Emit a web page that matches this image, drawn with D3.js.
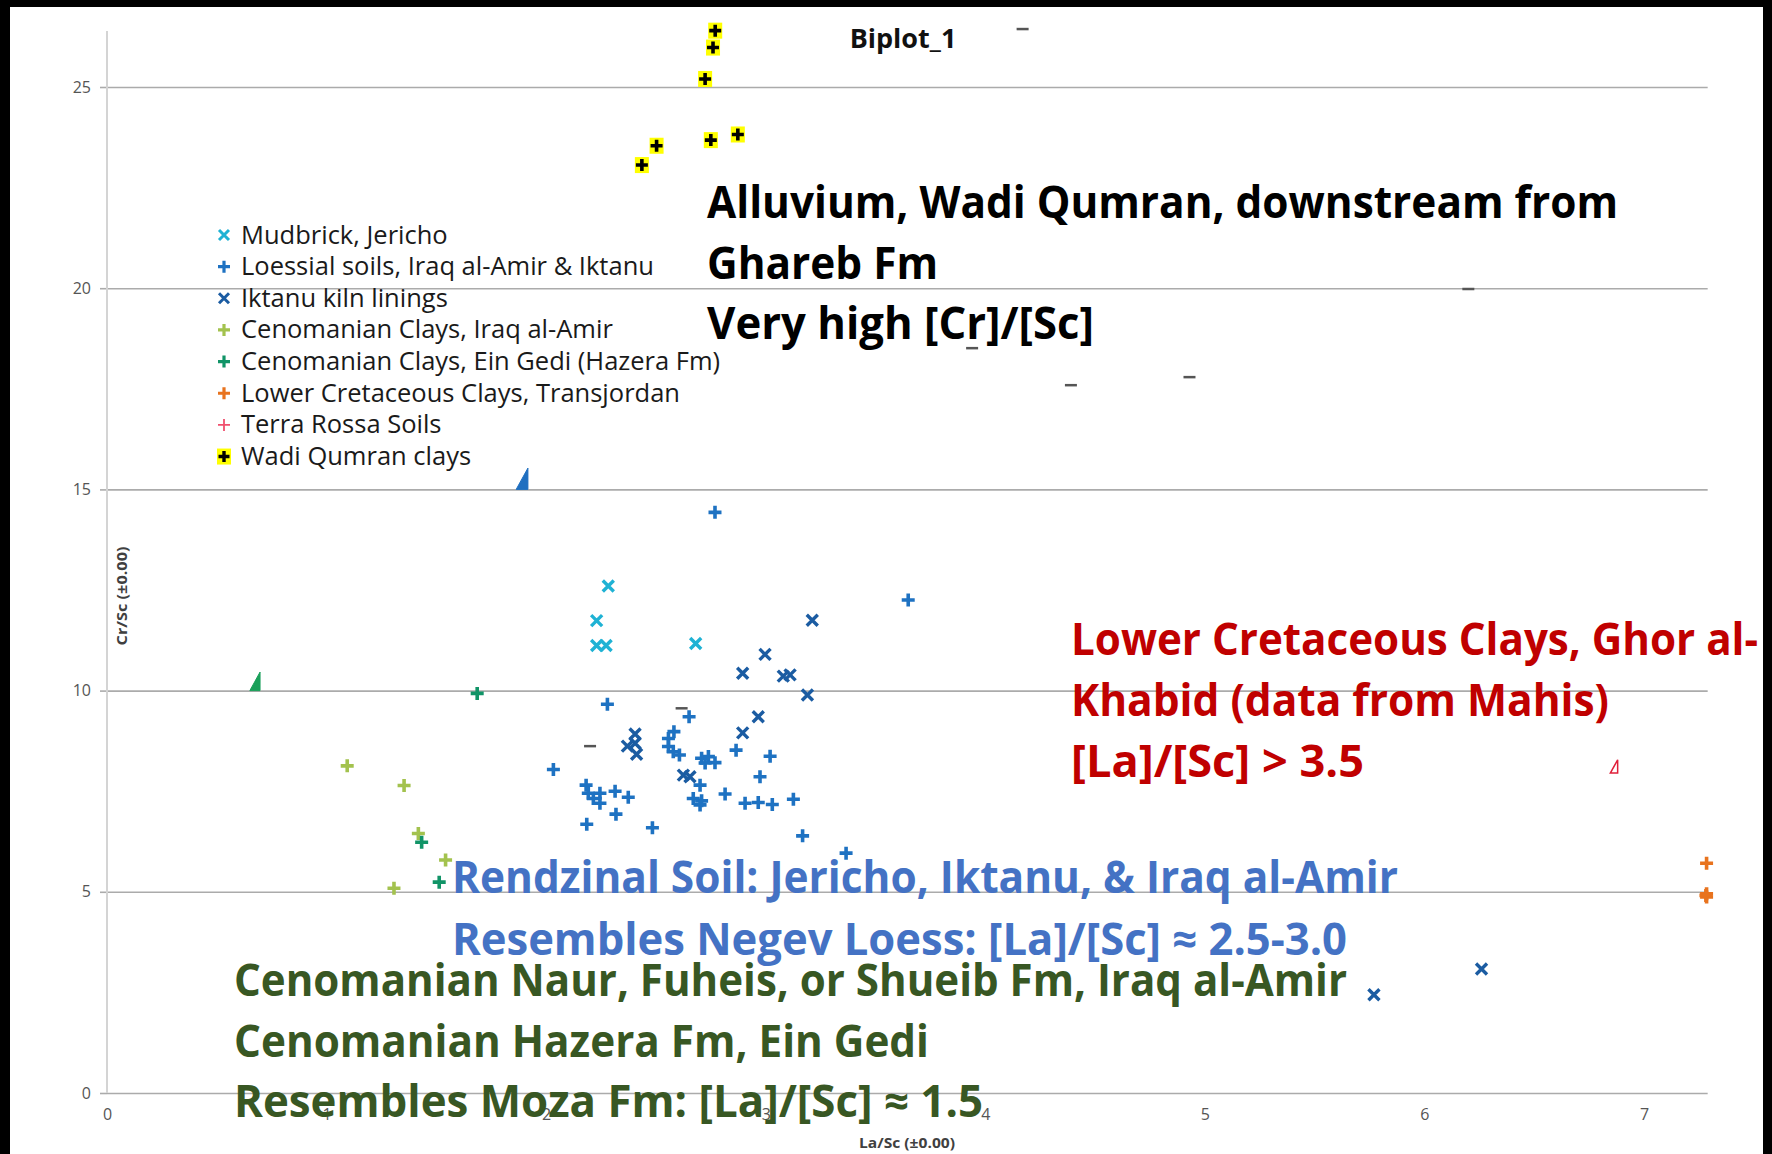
<!DOCTYPE html>
<html>
<head>
<meta charset="utf-8">
<script src="https://cdn.jsdelivr.net/npm/d3@7/dist/d3.min.js"></script>
<style>
  html, body { margin: 0; padding: 0; background: #fff; }
  svg { display: block; }
</style>
</head>
<body>
<svg id="chart" width="1772" height="1154"></svg>
<script>
// ---- axis ticks ----
const xTicks = [0, 1, 2, 3, 4, 5, 6, 7];
const yTicks = [0, 5, 10, 15, 20, 25];

// ---- series: [La/Sc, Cr/Sc] ----
const mudbrickJericho = [
  [2.283, 12.60], [2.230, 11.74], [2.230, 11.12], [2.273, 11.12], [2.681, 11.17]
];
const loessialSoils = [
  [2.769, 14.43], [3.649, 12.25], [2.279, 9.66], [2.651, 9.35],
  [2.582, 8.98], [2.557, 8.81], [2.557, 8.61], [2.579, 8.48], [2.607, 8.40],
  [2.033, 8.04], [2.865, 8.52], [3.020, 8.37],
  [2.708, 8.32], [2.739, 8.36], [2.769, 8.21], [2.724, 8.20],
  [2.974, 7.86], [2.701, 7.65],
  [2.182, 7.65], [2.192, 7.45], [2.215, 7.32], [2.245, 7.45], [2.245, 7.20],
  [2.314, 7.50], [2.374, 7.35],
  [2.670, 7.32], [2.708, 7.26], [2.701, 7.16],
  [2.815, 7.43], [2.906, 7.20], [2.966, 7.22], [3.030, 7.17], [3.126, 7.30],
  [2.318, 6.93], [2.185, 6.68], [2.484, 6.59], [3.168, 6.39], [3.366, 5.96]
];
const iktanuKilnLinings = [
  [3.212, 11.75], [2.997, 10.90], [2.895, 10.43], [3.080, 10.36], [3.111, 10.39],
  [3.190, 9.89], [2.966, 9.35], [2.895, 8.95],
  [2.405, 8.92], [2.370, 8.62], [2.412, 8.42], [2.405, 8.69],
  [2.625, 7.90], [2.655, 7.86],
  [6.260, 3.08], [5.770, 2.44]
];
const cenomanianIraqAlAmir = [
  [1.094, 8.13], [1.353, 7.64], [1.418, 6.45], [1.542, 5.79], [1.307, 5.09]
];
const cenomanianEinGedi = [
  [1.686, 9.93], [1.433, 6.23], [1.513, 5.24]
];
const lowerCretaceousTransjordan = [
  [7.285, 5.71], [7.285, 4.95], [7.285, 4.87], [7.282, 4.91]
];
const terraRossaSoils = [];
const wadiQumranClays = [
  [2.770, 26.40], [2.760, 25.98], [2.724, 25.20],
  [2.436, 23.06], [2.503, 23.54], [2.750, 23.68], [2.873, 23.82]
];

// stray short dashes left on the plot
const strayDashes = [
  [4.17, 26.44], [6.20, 19.98], [4.93, 17.79], [4.39, 17.59], [3.94, 18.51],
  [2.200, 8.62], [2.617, 9.56]
];
// arrow heads: tip x, tip y, base y
const arrowTipX = [1.917, 0.697, 6.880];
const arrowTipY = [15.53, 10.46, 8.28];
const arrowBaseY = [15.0, 10.0, 7.95];

const legendLabels = [
  "Mudbrick, Jericho",
  "Loessial soils, Iraq al-Amir & Iktanu",
  "Iktanu kiln linings",
  "Cenomanian Clays, Iraq al-Amir",
  "Cenomanian Clays, Ein Gedi (Hazera Fm)",
  "Lower Cretaceous Clays, Transjordan",
  "Terra Rossa Soils",
  "Wadi Qumran clays"
];

const svg = d3.select("#chart");
const W = 1772, H = 1154;

const x = d3.scaleLinear().domain([0, 7]).range([107, 1644]);
const y = d3.scaleLinear().domain([0, 25]).range([1093, 87]);
const xMax = 7.29, yMax = 26.39;

svg.append("rect").attr("width", W).attr("height", H).attr("fill", "#fff");

// gridlines + y axis
const yAxis = d3.axisLeft(y).tickValues(yTicks).tickSize(-(x(xMax) - x(0))).tickPadding(9)
  .tickFormat(d3.format("d"));
const gy = svg.append("g").attr("transform", `translate(${x(0)},0)`).call(yAxis);
gy.select(".domain").remove();
gy.selectAll(".tick line").attr("stroke", "#ababab").attr("stroke-width", 1.6);
gy.selectAll(".tick text").attr("font-family", "'Open Sans', sans-serif")
  .attr("font-size", 16).attr("fill", "#555").attr("x", -16);
// short outer ticks to the left of the axis
gy.selectAll(".tick").append("line").attr("x1", -7).attr("x2", 0)
  .attr("stroke", "#ababab").attr("stroke-width", 1.6);

// vertical axis line
svg.append("line").attr("x1", x(0)).attr("x2", x(0)).attr("y1", y(yMax)).attr("y2", y(0))
  .attr("stroke", "#d4d4d4").attr("stroke-width", 2);

const xAxis = d3.axisBottom(x).tickValues(xTicks).tickSize(0).tickPadding(16)
  .tickFormat(d3.format("d"));
const gx = svg.append("g").attr("transform", `translate(0,${y(0)})`).call(xAxis);
gx.select(".domain").remove();
gx.selectAll(".tick text").attr("font-family", "'Open Sans', sans-serif")
  .attr("font-size", 16).attr("fill", "#555");

// axis titles
svg.append("text").attr("transform", `translate(127,596) rotate(-90)`)
  .attr("text-anchor", "middle").attr("font-family", "'Open Sans', sans-serif")
  .attr("font-weight", 700).attr("font-size", 14).attr("fill", "#404040")
  .attr("textLength", 99).attr("lengthAdjust", "spacingAndGlyphs")
  .text("Cr/Sc (±0.00)");
svg.append("text").attr("x", 907).attr("y", 1148)
  .attr("text-anchor", "middle").attr("font-family", "'Open Sans', sans-serif")
  .attr("font-weight", 700).attr("font-size", 14).attr("fill", "#404040")
  .attr("textLength", 96).attr("lengthAdjust", "spacingAndGlyphs")
  .text("La/Sc (±0.00)");

// chart title
svg.append("text").attr("x", 903).attr("y", 48).attr("text-anchor", "middle")
  .attr("font-family", "'Open Sans', sans-serif").attr("font-weight", 700)
  .attr("font-size", 27).attr("fill", "#111").text("Biplot_1");

// stray dashes
svg.append("g").selectAll("line").data(strayDashes).join("line")
  .attr("x1", d => x(d[0]) - 6).attr("x2", d => x(d[0]) + 6)
  .attr("y1", d => y(d[1])).attr("y2", d => y(d[1]))
  .attr("stroke", "#555").attr("stroke-width", 2.5);

// arrow heads
const arrowColors = ["#1f6fc0", "#1aa05a", "#e0203a"];
const arrowFill = [true, true, false];
svg.append("g").selectAll("path").data(arrowTipX.map((v, i) => i)).join("path")
  .attr("d", i => {
    const tx = x(arrowTipX[i]), ty = y(arrowTipY[i]), by = y(arrowBaseY[i]);
    const w = (by - ty) * 0.55;
    return `M${tx},${ty}L${tx},${by}L${tx - w},${by}Z`;
  })
  .attr("fill", i => arrowFill[i] ? arrowColors[i] : "none")
  .attr("stroke", i => arrowColors[i]).attr("stroke-width", i => arrowFill[i] ? 1 : 1.5);

// marker shapes
const plusPath = s => `M${-s},0H${s}M0,${-s}V${s}`;
const crossPath = s => `M${-s},${-s}L${s},${s}M${-s},${s}L${s},${-s}`;

function drawSeries(data, path, color, width) {
  svg.append("g").selectAll("path").data(data).join("path")
    .attr("transform", d => `translate(${x(d[0])},${y(d[1])})`)
    .attr("d", path).attr("stroke", color).attr("stroke-width", width)
    .attr("fill", "none");
}

const colors = {
  mud: "#1fb2d4",
  loess: "#1e72c2",
  kiln: "#1b5ca2",
  cenoIraq: "#a3c24e",
  cenoEin: "#119467",
  lowerCret: "#e8731e",
  terra: "#f0506e",
  wadi: "#000"
};

drawSeries(cenomanianIraqAlAmir, plusPath(6.5), colors.cenoIraq, 3.6);
drawSeries(cenomanianEinGedi, plusPath(6.5), colors.cenoEin, 3.6);
drawSeries(loessialSoils, plusPath(6.5), colors.loess, 3.6);
drawSeries(mudbrickJericho, crossPath(5.5), colors.mud, 3.4);
drawSeries(iktanuKilnLinings, crossPath(5.5), colors.kiln, 3.4);
drawSeries(lowerCretaceousTransjordan, plusPath(6.5), colors.lowerCret, 3.6);
drawSeries(terraRossaSoils, plusPath(6.5), colors.terra, 2);

// Wadi Qumran: black plus on a yellow patch
const gw = svg.append("g").selectAll("g").data(wadiQumranClays).join("g")
  .attr("transform", d => `translate(${x(d[0])},${y(d[1])})`);
gw.append("rect").attr("x", -7).attr("y", -8).attr("width", 14).attr("height", 16).attr("fill", "#ffff00");
gw.append("path").attr("d", plusPath(6)).attr("stroke", colors.wadi).attr("stroke-width", 3.6);

// legend
const legendMarks = [
  { p: crossPath(5), c: colors.mud, w: 3 },
  { p: plusPath(6), c: colors.loess, w: 3.2 },
  { p: crossPath(5), c: colors.kiln, w: 3 },
  { p: plusPath(6), c: colors.cenoIraq, w: 3.2 },
  { p: plusPath(6), c: colors.cenoEin, w: 3.2 },
  { p: plusPath(6), c: colors.lowerCret, w: 3.2 },
  { p: plusPath(6), c: colors.terra, w: 1.8 },
  { p: plusPath(5.5), c: colors.wadi, w: 3.4, bg: true }
];
const lg = svg.append("g").selectAll("g").data(legendLabels).join("g")
  .attr("transform", (d, i) => `translate(224,${235 + i * 31.65})`);
lg.each(function(d, i) {
  const g = d3.select(this);
  const m = legendMarks[i];
  if (m.bg) g.append("rect").attr("x", -7).attr("y", -8).attr("width", 14).attr("height", 16).attr("fill", "#ffff00");
  g.append("path").attr("d", m.p).attr("stroke", m.c).attr("stroke-width", m.w).attr("fill", "none");
  g.append("text").attr("x", 17).attr("y", 8.5).attr("font-family", "'Open Sans', sans-serif")
    .attr("font-size", 25.5).attr("fill", "#1a1a1a").text(d);
});

// annotation blocks: [text, baseline, length]
const annotationBlocks = [
  { color: "#000", x: 707, lines: [
      ["Alluvium, Wadi Qumran, downstream from", 218, 911],
      ["Ghareb Fm", 279, 231],
      ["Very high [Cr]/[Sc]", 339, 387]] },
  { color: "#c00000", x: 1071, lines: [
      ["Lower Cretaceous Clays, Ghor al-", 655, 687],
      ["Khabid (data from Mahis)", 716, 538],
      ["[La]/[Sc] > 3.5", 777, 293]] },
  { color: "#4472c4", x: 452, lines: [
      ["Rendzinal Soil: Jericho, Iktanu, & Iraq al-Amir", 893, 946],
      ["Resembles Negev Loess: [La]/[Sc] ≈ 2.5-3.0", 955, 895]] },
  { color: "#385723", x: 234, lines: [
      ["Cenomanian Naur, Fuheis, or Shueib Fm, Iraq al-Amir", 996, 1113],
      ["Cenomanian Hazera Fm, Ein Gedi", 1057, 695],
      ["Resembles Moza Fm: [La]/[Sc] ≈ 1.5", 1117, 749]] }
];
annotationBlocks.forEach(b => {
  b.lines.forEach(([t, by, len]) => {
    svg.append("text").attr("x", b.x).attr("y", by)
      .attr("font-family", "'Open Sans', sans-serif").attr("font-weight", 700)
      .attr("font-size", 44).attr("fill", b.color)
      .attr("textLength", len).attr("lengthAdjust", "spacingAndGlyphs")
      .text(t);
  });
});

// dark frame edges
svg.append("rect").attr("x", 0).attr("y", 0).attr("width", W).attr("height", 7).attr("fill", "#000");
svg.append("rect").attr("x", 0).attr("y", 0).attr("width", 10).attr("height", H).attr("fill", "#000");
svg.append("rect").attr("x", 1763).attr("y", 0).attr("width", 9).attr("height", H).attr("fill", "#000");
</script>
</body>
</html>
